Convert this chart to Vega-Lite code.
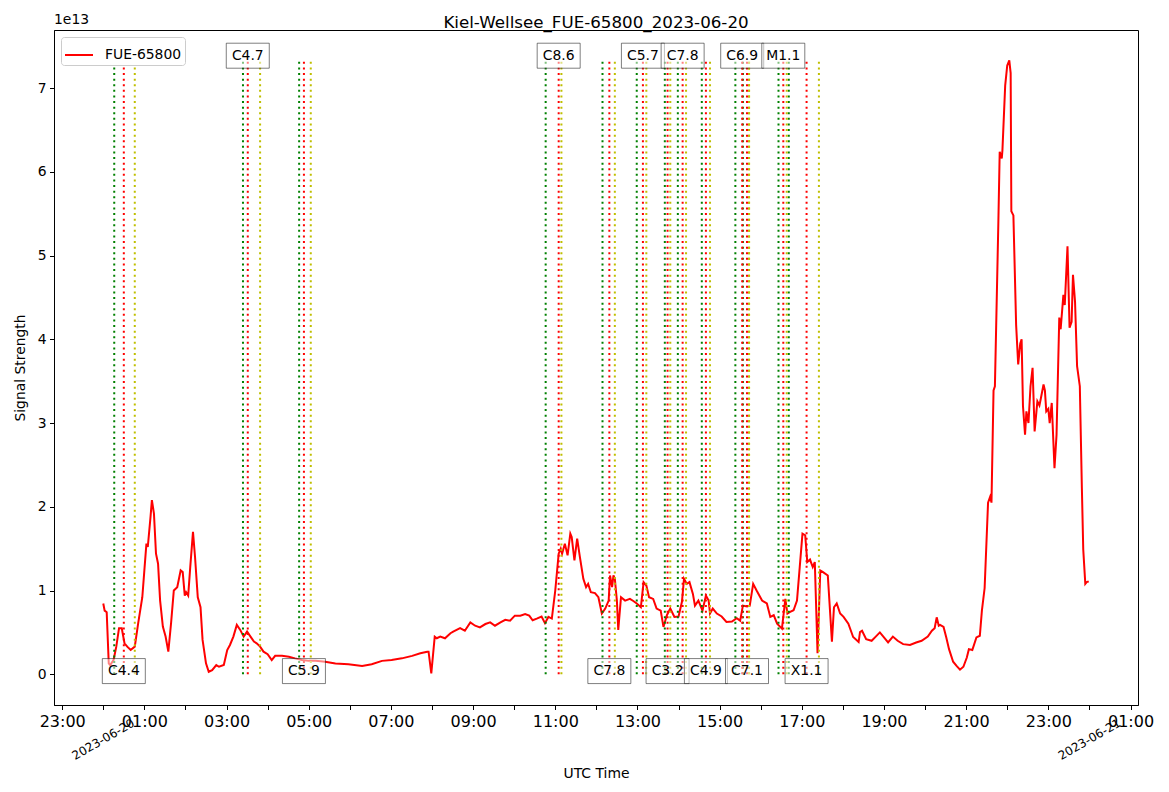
{
"$schema":"https://vega.github.io/schema/vega-lite/v6.json",
"width":1084,"height":675,
"autosize":{"type":"none"},
"padding":{"left":54,"top":30,"right":31,"bottom":87},
"background":"white",
"title":{"text":"Kiel-Wellsee_FUE-65800_2023-06-20","fontSize":16.7,"fontWeight":"normal","font":"DejaVu Sans","color":"black","offset":-19,"anchor":"middle","frame":"group"},
"config":{"font":"DejaVu Sans","view":{"stroke":"black","strokeWidth":1},
"axis":{"grid":false,"domainColor":"black","tickColor":"black","labelColor":"black","titleColor":"black","titleFontWeight":"normal","titleFont":"DejaVu Sans","labelFont":"DejaVu Sans"},
"legend":{"orient":"top-left","offset":7,"symbolType":"stroke","symbolSize":784,"symbolStrokeWidth":2,"labelFontSize":13.9,"labelColor":"black","fillColor":"white","strokeColor":"#cccccc","cornerRadius":3,"padding":3,"labelOffset":11}},
"datasets":{
"series":[
{"t":"2023-06-20T00:00","v":0.845e13},{"t":"2023-06-20T00:02","v":0.76e13},{"t":"2023-06-20T00:05","v":0.74e13},{"t":"2023-06-20T00:08","v":0.13e13},{"t":"2023-06-20T00:10","v":0.11e13},{"t":"2023-06-20T00:15","v":0.17e13},{"t":"2023-06-20T00:19","v":0.33e13},{"t":"2023-06-20T00:23","v":0.55e13},{"t":"2023-06-20T00:27","v":0.55e13},{"t":"2023-06-20T00:31","v":0.37e13},{"t":"2023-06-20T00:35","v":0.33e13},{"t":"2023-06-20T00:40","v":0.29e13},{"t":"2023-06-20T00:46","v":0.33e13},{"t":"2023-06-20T00:51","v":0.61e13},{"t":"2023-06-20T00:57","v":0.92e13},
{"t":"2023-06-20T01:00","v":1.24e13},{"t":"2023-06-20T01:03","v":1.56e13},{"t":"2023-06-20T01:05","v":1.52e13},{"t":"2023-06-20T01:09","v":1.88e13},{"t":"2023-06-20T01:11","v":2.08e13},{"t":"2023-06-20T01:14","v":1.92e13},{"t":"2023-06-20T01:17","v":1.44e13},{"t":"2023-06-20T01:20","v":1.32e13},{"t":"2023-06-20T01:23","v":0.88e13},{"t":"2023-06-20T01:27","v":0.57e13},{"t":"2023-06-20T01:31","v":0.45e13},{"t":"2023-06-20T01:35","v":0.27e13},{"t":"2023-06-20T01:39","v":0.61e13},{"t":"2023-06-20T01:43","v":1.00e13},{"t":"2023-06-20T01:48","v":1.04e13},{"t":"2023-06-20T01:50","v":1.12e13},{"t":"2023-06-20T01:53","v":1.24e13},{"t":"2023-06-20T01:56","v":1.22e13},{"t":"2023-06-20T01:59","v":0.94e13},
{"t":"2023-06-20T02:01","v":0.98e13},{"t":"2023-06-20T02:04","v":0.94e13},{"t":"2023-06-20T02:07","v":1.28e13},{"t":"2023-06-20T02:11","v":1.70e13},{"t":"2023-06-20T02:14","v":1.40e13},{"t":"2023-06-20T02:18","v":0.92e13},{"t":"2023-06-20T02:22","v":0.80e13},{"t":"2023-06-20T02:25","v":0.41e13},{"t":"2023-06-20T02:30","v":0.13e13},{"t":"2023-06-20T02:34","v":0.03e13},{"t":"2023-06-20T02:39","v":0.05e13},{"t":"2023-06-20T02:45","v":0.11e13},{"t":"2023-06-20T02:49","v":0.09e13},{"t":"2023-06-20T02:56","v":0.11e13},
{"t":"2023-06-20T03:01","v":0.29e13},{"t":"2023-06-20T03:05","v":0.35e13},{"t":"2023-06-20T03:10","v":0.45e13},{"t":"2023-06-20T03:15","v":0.59e13},{"t":"2023-06-20T03:20","v":0.53e13},{"t":"2023-06-20T03:25","v":0.45e13},{"t":"2023-06-20T03:30","v":0.51e13},{"t":"2023-06-20T03:35","v":0.45e13},{"t":"2023-06-20T03:40","v":0.39e13},{"t":"2023-06-20T03:44","v":0.37e13},{"t":"2023-06-20T03:49","v":0.33e13},{"t":"2023-06-20T03:54","v":0.27e13},
{"t":"2023-06-20T04:00","v":0.24e13},{"t":"2023-06-20T04:06","v":0.17e13},{"t":"2023-06-20T04:11","v":0.22e13},{"t":"2023-06-20T04:21","v":0.22e13},{"t":"2023-06-20T04:31","v":0.21e13},{"t":"2023-06-20T04:40","v":0.19e13},{"t":"2023-06-20T04:50","v":0.17e13},{"t":"2023-06-20T05:00","v":0.16e13},{"t":"2023-06-20T05:10","v":0.16e13},{"t":"2023-06-20T05:24","v":0.15e13},{"t":"2023-06-20T05:39","v":0.13e13},{"t":"2023-06-20T05:58","v":0.12e13},{"t":"2023-06-20T06:18","v":0.10e13},{"t":"2023-06-20T06:32","v":0.12e13},{"t":"2023-06-20T06:47","v":0.16e13},{"t":"2023-06-20T07:01","v":0.17e13},{"t":"2023-06-20T07:16","v":0.19e13},{"t":"2023-06-20T07:31","v":0.22e13},{"t":"2023-06-20T07:43","v":0.25e13},{"t":"2023-06-20T07:53","v":0.27e13},{"t":"2023-06-20T07:55","v":0.27e13},{"t":"2023-06-20T07:59","v":0.01e13},
{"t":"2023-06-20T08:04","v":0.45e13},{"t":"2023-06-20T08:07","v":0.43e13},{"t":"2023-06-20T08:12","v":0.45e13},{"t":"2023-06-20T08:19","v":0.43e13},{"t":"2023-06-20T08:27","v":0.49e13},{"t":"2023-06-20T08:31","v":0.51e13},{"t":"2023-06-20T08:41","v":0.55e13},{"t":"2023-06-20T08:48","v":0.52e13},{"t":"2023-06-20T08:56","v":0.62e13},{"t":"2023-06-20T09:03","v":0.58e13},{"t":"2023-06-20T09:10","v":0.56e13},{"t":"2023-06-20T09:18","v":0.60e13},{"t":"2023-06-20T09:25","v":0.62e13},{"t":"2023-06-20T09:32","v":0.58e13},{"t":"2023-06-20T09:40","v":0.62e13},{"t":"2023-06-20T09:47","v":0.65e13},{"t":"2023-06-20T09:54","v":0.64e13},
{"t":"2023-06-20T10:01","v":0.70e13},{"t":"2023-06-20T10:09","v":0.70e13},{"t":"2023-06-20T10:16","v":0.72e13},{"t":"2023-06-20T10:22","v":0.70e13},{"t":"2023-06-20T10:27","v":0.645e13},{"t":"2023-06-20T10:33","v":0.665e13},{"t":"2023-06-20T10:40","v":0.69e13},{"t":"2023-06-20T10:45","v":0.61e13},{"t":"2023-06-20T10:50","v":0.685e13},{"t":"2023-06-20T10:55","v":0.665e13},
{"t":"2023-06-20T11:00","v":1.00e13},{"t":"2023-06-20T11:05","v":1.44e13},{"t":"2023-06-20T11:08","v":1.50e13},{"t":"2023-06-20T11:10","v":1.44e13},{"t":"2023-06-20T11:14","v":1.56e13},{"t":"2023-06-20T11:18","v":1.42e13},{"t":"2023-06-20T11:22","v":1.68e13},{"t":"2023-06-20T11:24","v":1.64e13},{"t":"2023-06-20T11:28","v":1.36e13},{"t":"2023-06-20T11:32","v":1.62e13},{"t":"2023-06-20T11:36","v":1.40e13},{"t":"2023-06-20T11:41","v":1.14e13},{"t":"2023-06-20T11:45","v":1.04e13},{"t":"2023-06-20T11:48","v":1.08e13},{"t":"2023-06-20T11:52","v":0.98e13},{"t":"2023-06-20T11:58","v":0.97e13},
{"t":"2023-06-20T12:03","v":0.92e13},{"t":"2023-06-20T12:08","v":0.725e13},{"t":"2023-06-20T12:13","v":0.785e13},{"t":"2023-06-20T12:18","v":0.88e13},{"t":"2023-06-20T12:20","v":1.18e13},{"t":"2023-06-20T12:23","v":1.04e13},{"t":"2023-06-20T12:25","v":1.18e13},{"t":"2023-06-20T12:27","v":1.14e13},{"t":"2023-06-20T12:30","v":0.88e13},{"t":"2023-06-20T12:32","v":0.53e13},{"t":"2023-06-20T12:36","v":0.92e13},{"t":"2023-06-20T12:42","v":0.88e13},{"t":"2023-06-20T12:49","v":0.90e13},{"t":"2023-06-20T12:54","v":0.875e13},{"t":"2023-06-20T12:59","v":0.845e13},
{"t":"2023-06-20T13:05","v":0.80e13},{"t":"2023-06-20T13:09","v":1.10e13},{"t":"2023-06-20T13:13","v":1.06e13},{"t":"2023-06-20T13:17","v":0.92e13},{"t":"2023-06-20T13:23","v":0.90e13},{"t":"2023-06-20T13:28","v":0.785e13},{"t":"2023-06-20T13:34","v":0.76e13},{"t":"2023-06-20T13:38","v":0.565e13},{"t":"2023-06-20T13:43","v":0.705e13},{"t":"2023-06-20T13:48","v":0.785e13},{"t":"2023-06-20T13:54","v":0.685e13},
{"t":"2023-06-20T14:00","v":0.69e13},{"t":"2023-06-20T14:05","v":0.865e13},{"t":"2023-06-20T14:08","v":1.14e13},{"t":"2023-06-20T14:12","v":1.08e13},{"t":"2023-06-20T14:16","v":1.10e13},{"t":"2023-06-20T14:21","v":0.96e13},{"t":"2023-06-20T14:24","v":0.82e13},{"t":"2023-06-20T14:29","v":0.88e13},{"t":"2023-06-20T14:35","v":0.76e13},{"t":"2023-06-20T14:40","v":0.94e13},{"t":"2023-06-20T14:44","v":0.88e13},{"t":"2023-06-20T14:46","v":0.725e13},{"t":"2023-06-20T14:50","v":0.785e13},{"t":"2023-06-20T14:56","v":0.725e13},
{"t":"2023-06-20T15:03","v":0.69e13},{"t":"2023-06-20T15:10","v":0.625e13},{"t":"2023-06-20T15:18","v":0.63e13},{"t":"2023-06-20T15:25","v":0.67e13},{"t":"2023-06-20T15:30","v":0.64e13},{"t":"2023-06-20T15:34","v":0.82e13},{"t":"2023-06-20T15:40","v":0.81e13},{"t":"2023-06-20T15:44","v":0.82e13},{"t":"2023-06-20T15:49","v":1.08e13},{"t":"2023-06-20T15:54","v":1.00e13},
{"t":"2023-06-20T16:02","v":0.88e13},{"t":"2023-06-20T16:09","v":0.845e13},{"t":"2023-06-20T16:14","v":0.685e13},{"t":"2023-06-20T16:19","v":0.705e13},{"t":"2023-06-20T16:24","v":0.605e13},{"t":"2023-06-20T16:31","v":0.545e13},{"t":"2023-06-20T16:36","v":0.90e13},{"t":"2023-06-20T16:39","v":0.725e13},{"t":"2023-06-20T16:43","v":0.745e13},{"t":"2023-06-20T16:48","v":0.765e13},{"t":"2023-06-20T16:53","v":0.88e13},{"t":"2023-06-20T16:57","v":1.28e13},
{"t":"2023-06-20T17:01","v":1.68e13},{"t":"2023-06-20T17:05","v":1.66e13},{"t":"2023-06-20T17:08","v":1.34e13},{"t":"2023-06-20T17:12","v":1.37e13},{"t":"2023-06-20T17:16","v":1.28e13},{"t":"2023-06-20T17:19","v":1.34e13},{"t":"2023-06-20T17:23","v":0.25e13},{"t":"2023-06-20T17:27","v":1.24e13},{"t":"2023-06-20T17:31","v":1.22e13},{"t":"2023-06-20T17:38","v":1.18e13},{"t":"2023-06-20T17:44","v":0.39e13},{"t":"2023-06-20T17:47","v":0.80e13},{"t":"2023-06-20T17:51","v":0.845e13},{"t":"2023-06-20T17:56","v":0.725e13},
{"t":"2023-06-20T18:01","v":0.685e13},{"t":"2023-06-20T18:08","v":0.605e13},{"t":"2023-06-20T18:15","v":0.445e13},{"t":"2023-06-20T18:23","v":0.385e13},{"t":"2023-06-20T18:25","v":0.505e13},{"t":"2023-06-20T18:28","v":0.52e13},{"t":"2023-06-20T18:34","v":0.42e13},{"t":"2023-06-20T18:42","v":0.40e13},{"t":"2023-06-20T18:48","v":0.45e13},{"t":"2023-06-20T18:54","v":0.50e13},
{"t":"2023-06-20T19:00","v":0.44e13},{"t":"2023-06-20T19:06","v":0.38e13},{"t":"2023-06-20T19:13","v":0.45e13},{"t":"2023-06-20T19:20","v":0.40e13},{"t":"2023-06-20T19:28","v":0.36e13},{"t":"2023-06-20T19:38","v":0.35e13},{"t":"2023-06-20T19:47","v":0.38e13},{"t":"2023-06-20T19:55","v":0.40e13},
{"t":"2023-06-20T20:04","v":0.45e13},{"t":"2023-06-20T20:10","v":0.52e13},{"t":"2023-06-20T20:14","v":0.55e13},{"t":"2023-06-20T20:17","v":0.68e13},{"t":"2023-06-20T20:20","v":0.58e13},{"t":"2023-06-20T20:22","v":0.59e13},{"t":"2023-06-20T20:27","v":0.565e13},{"t":"2023-06-20T20:31","v":0.44e13},{"t":"2023-06-20T20:35","v":0.30e13},{"t":"2023-06-20T20:41","v":0.15e13},{"t":"2023-06-20T20:46","v":0.10e13},{"t":"2023-06-20T20:51","v":0.055e13},{"t":"2023-06-20T20:56","v":0.09e13},
{"t":"2023-06-20T21:01","v":0.20e13},{"t":"2023-06-20T21:04","v":0.30e13},{"t":"2023-06-20T21:09","v":0.29e13},{"t":"2023-06-20T21:15","v":0.44e13},{"t":"2023-06-20T21:20","v":0.46e13},{"t":"2023-06-20T21:23","v":0.76e13},{"t":"2023-06-20T21:27","v":1.03e13},{"t":"2023-06-20T21:32","v":2.05e13},{"t":"2023-06-20T21:35","v":2.12e13},{"t":"2023-06-20T21:37","v":2.05e13},{"t":"2023-06-20T21:40","v":3.39e13},{"t":"2023-06-20T21:42","v":3.44e13},{"t":"2023-06-20T21:47","v":5.38e13},{"t":"2023-06-20T21:49","v":6.24e13},{"t":"2023-06-20T21:52","v":6.16e13},{"t":"2023-06-20T21:53","v":6.26e13},{"t":"2023-06-20T21:57","v":7.03e13},
{"t":"2023-06-20T22:00","v":7.27e13},{"t":"2023-06-20T22:03","v":7.33e13},{"t":"2023-06-20T22:05","v":7.18e13},{"t":"2023-06-20T22:06","v":5.53e13},{"t":"2023-06-20T22:09","v":5.48e13},{"t":"2023-06-20T22:13","v":4.17e13},{"t":"2023-06-20T22:16","v":3.70e13},{"t":"2023-06-20T22:19","v":3.95e13},{"t":"2023-06-20T22:21","v":4.00e13},{"t":"2023-06-20T22:23","v":3.20e13},{"t":"2023-06-20T22:26","v":2.86e13},{"t":"2023-06-20T22:28","v":3.14e13},{"t":"2023-06-20T22:31","v":3.00e13},{"t":"2023-06-20T22:34","v":3.44e13},{"t":"2023-06-20T22:37","v":3.66e13},{"t":"2023-06-20T22:40","v":2.90e13},{"t":"2023-06-20T22:44","v":3.26e13},{"t":"2023-06-20T22:47","v":3.21e13},{"t":"2023-06-20T22:49","v":3.29e13},{"t":"2023-06-20T22:53","v":3.46e13},{"t":"2023-06-20T22:55","v":3.39e13},{"t":"2023-06-20T22:57","v":3.14e13},
{"t":"2023-06-20T23:00","v":3.17e13},{"t":"2023-06-20T23:02","v":3.00e13},{"t":"2023-06-20T23:05","v":3.24e13},{"t":"2023-06-20T23:09","v":2.46e13},{"t":"2023-06-20T23:12","v":2.86e13},{"t":"2023-06-20T23:16","v":4.26e13},{"t":"2023-06-20T23:18","v":4.12e13},{"t":"2023-06-20T23:22","v":4.53e13},{"t":"2023-06-20T23:24","v":4.41e13},{"t":"2023-06-20T23:28","v":5.11e13},{"t":"2023-06-20T23:31","v":4.14e13},{"t":"2023-06-20T23:34","v":4.21e13},{"t":"2023-06-20T23:36","v":4.77e13},{"t":"2023-06-20T23:39","v":4.45e13},{"t":"2023-06-20T23:42","v":3.68e13},{"t":"2023-06-20T23:46","v":3.44e13},{"t":"2023-06-20T23:49","v":2.22e13},{"t":"2023-06-20T23:51","v":1.49e13},{"t":"2023-06-20T23:54","v":1.08e13},{"t":"2023-06-20T23:56","v":1.10e13},{"t":"2023-06-20T23:59","v":1.11e13}
],
"flares":[
{"cls":"C4.4","start":"2023-06-20T00:16","peak":"2023-06-20T00:30","end":"2023-06-20T00:46","pos":"bottom"},
{"cls":"C4.7","start":"2023-06-20T03:24","peak":"2023-06-20T03:31","end":"2023-06-20T03:49","pos":"top"},
{"cls":"C5.9","start":"2023-06-20T04:46","peak":"2023-06-20T04:53","end":"2023-06-20T05:03","pos":"bottom"},
{"cls":"C8.6","start":"2023-06-20T10:46","peak":"2023-06-20T11:05","end":"2023-06-20T11:09","pos":"top"},
{"cls":"C7.8","start":"2023-06-20T12:09","peak":"2023-06-20T12:19","end":"2023-06-20T12:27","pos":"bottom"},
{"cls":"C5.7","start":"2023-06-20T12:59","peak":"2023-06-20T13:08","end":"2023-06-20T13:13","pos":"top"},
{"cls":"C3.2","start":"2023-06-20T13:40","peak":"2023-06-20T13:44","end":"2023-06-20T13:48","pos":"bottom"},
{"cls":"C7.8","start":"2023-06-20T13:59","peak":"2023-06-20T14:06","end":"2023-06-20T14:11","pos":"top"},
{"cls":"C4.9","start":"2023-06-20T14:34","peak":"2023-06-20T14:40","end":"2023-06-20T14:46","pos":"bottom"},
{"cls":"C6.9","start":"2023-06-20T15:23","peak":"2023-06-20T15:33","end":"2023-06-20T15:43","pos":"top"},
{"cls":"C7.1","start":"2023-06-20T15:34","peak":"2023-06-20T15:40","end":"2023-06-20T15:43","pos":"bottom"},
{"cls":"M1.1","start":"2023-06-20T16:26","peak":"2023-06-20T16:33","end":"2023-06-20T16:38","pos":"top"},
{"cls":"X1.1","start":"2023-06-20T16:41","peak":"2023-06-20T17:07","end":"2023-06-20T17:25","pos":"bottom"}
],
"days":[{"d":"2023-06-20T00:00","label":"2023-06-20"},{"d":"2023-06-21T00:00","label":"2023-06-21"}],
"offsetlabel":[{"txt":"1e13"}]
},
"layer":[
{"data":{"name":"series"},
 "mark":{"type":"line","strokeWidth":2},
 "encoding":{
  "x":{"field":"t","type":"temporal",
   "scale":{"domain":[{"year":2023,"month":6,"date":19,"hours":22,"minutes":48,"seconds":3},{"year":2023,"month":6,"date":21,"hours":1,"minutes":10,"seconds":57}]},
   "axis":{"values":[{"year":2023,"month":6,"date":19,"hours":23},{"year":2023,"month":6,"date":20,"hours":0},{"year":2023,"month":6,"date":20,"hours":1},{"year":2023,"month":6,"date":20,"hours":2},{"year":2023,"month":6,"date":20,"hours":3},{"year":2023,"month":6,"date":20,"hours":4},{"year":2023,"month":6,"date":20,"hours":5},{"year":2023,"month":6,"date":20,"hours":6},{"year":2023,"month":6,"date":20,"hours":7},{"year":2023,"month":6,"date":20,"hours":8},{"year":2023,"month":6,"date":20,"hours":9},{"year":2023,"month":6,"date":20,"hours":10},{"year":2023,"month":6,"date":20,"hours":11},{"year":2023,"month":6,"date":20,"hours":12},{"year":2023,"month":6,"date":20,"hours":13},{"year":2023,"month":6,"date":20,"hours":14},{"year":2023,"month":6,"date":20,"hours":15},{"year":2023,"month":6,"date":20,"hours":16},{"year":2023,"month":6,"date":20,"hours":17},{"year":2023,"month":6,"date":20,"hours":18},{"year":2023,"month":6,"date":20,"hours":19},{"year":2023,"month":6,"date":20,"hours":20},{"year":2023,"month":6,"date":20,"hours":21},{"year":2023,"month":6,"date":20,"hours":22},{"year":2023,"month":6,"date":20,"hours":23},{"year":2023,"month":6,"date":21,"hours":0},{"year":2023,"month":6,"date":21,"hours":1}],
    "labelExpr":"hours(datum.value) % 2 == 1 ? timeFormat(datum.value, '%H:%M') : ''","labelFontSize":16,"tickSize":4.5,"labelPadding":3.5,"labelFlush":false,"labelOverlap":false,"labelBound":false,
    "title":"UTC Time","titleFontSize":13.9,"titlePadding":37}},
  "y":{"field":"v","type":"quantitative",
   "scale":{"domain":[-3.67e12,7.694e13],"nice":false,"zero":false},
   "axis":{"values":[0,1e13,2e13,3e13,4e13,5e13,6e13,7e13],"labelExpr":"'' + round(datum.value/1e13)","title":"Signal Strength","titleFontSize":13.9,"labelFontSize":13.9,"tickSize":4.5,"labelPadding":3.5,"titlePadding":10}},
  "color":{"datum":"FUE-65800","type":"nominal","scale":{"range":["red"]},"legend":{"title":null}}
 }},
{"data":{"name":"flares"},
 "mark":{"type":"rule","color":"green","strokeWidth":2,"strokeDash":[2,3.6]},
 "encoding":{"x":{"field":"start","type":"temporal"},"y":{"datum":0},"y2":{"datum":7.33e13}}},
{"data":{"name":"flares"},
 "mark":{"type":"rule","color":"red","strokeWidth":2,"strokeDash":[2,3.6]},
 "encoding":{"x":{"field":"peak","type":"temporal"},"y":{"datum":0},"y2":{"datum":7.33e13}}},
{"data":{"name":"flares"},
 "mark":{"type":"rule","color":"#bfbf00","strokeWidth":2,"strokeDash":[2,3.6]},
 "encoding":{"x":{"field":"end","type":"temporal"},"y":{"datum":0},"y2":{"datum":7.33e13}}},
{"data":{"name":"flares"},
 "transform":[{"filter":"datum.pos == 'top'"}],
 "mark":{"type":"tick","orient":"vertical","thickness":43,"size":25,"fill":"white","fillOpacity":0.5,"stroke":"black","strokeOpacity":0.5,"strokeWidth":1},
 "encoding":{"x":{"field":"peak","type":"temporal"},"y":{"datum":7.387e13}}},
{"data":{"name":"flares"},
 "transform":[{"filter":"datum.pos == 'bottom'"}],
 "mark":{"type":"tick","orient":"vertical","thickness":43,"size":25,"fill":"white","fillOpacity":0.5,"stroke":"black","strokeOpacity":0.5,"strokeWidth":1},
 "encoding":{"x":{"field":"peak","type":"temporal"},"y":{"datum":3.8e11}}},
{"data":{"name":"flares"},
 "transform":[{"filter":"datum.pos == 'top'"}],
 "mark":{"type":"text","fontSize":13.9,"color":"black","align":"center","baseline":"middle"},
 "encoding":{"x":{"field":"peak","type":"temporal"},"y":{"datum":7.387e13},"text":{"field":"cls"}}},
{"data":{"name":"flares"},
 "transform":[{"filter":"datum.pos == 'bottom'"}],
 "mark":{"type":"text","fontSize":13.9,"color":"black","align":"center","baseline":"middle"},
 "encoding":{"x":{"field":"peak","type":"temporal"},"y":{"datum":3.8e11},"text":{"field":"cls"}}},
{"data":{"name":"days"},
 "mark":{"type":"text","fontSize":12,"color":"black","align":"center","baseline":"middle","angle":330},
 "encoding":{"x":{"field":"d","type":"temporal"},"y":{"datum":-7.77e12},"text":{"field":"label"}}},
{"data":{"name":"offsetlabel"},
 "mark":{"type":"text","fontSize":13.9,"color":"black","align":"left","baseline":"alphabetic","dy":-6},
 "encoding":{"x":{"datum":1687214883000,"type":"temporal"},"y":{"datum":7.694e13},"text":{"field":"txt"}}}
]
}
